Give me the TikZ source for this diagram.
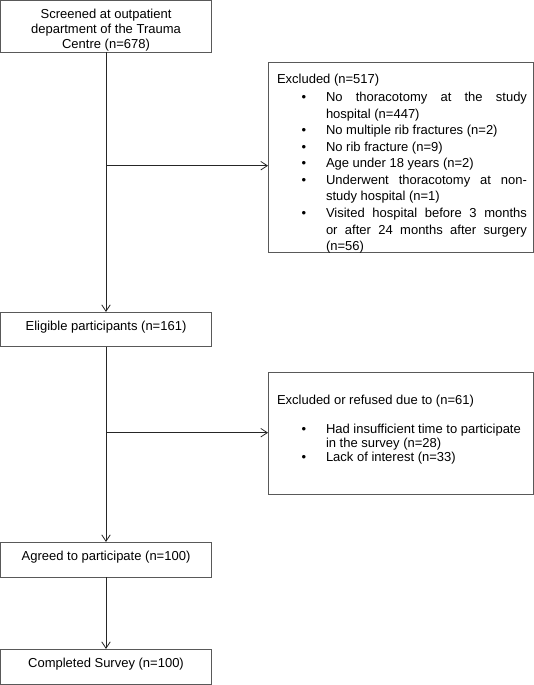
\documentclass[tikz,border=0pt]{standalone}
\usepackage{fontspec}
\setmainfont{Liberation Sans}
\usetikzlibrary{arrows.meta}
\newcommand{\bul}{\hspace*{24.7pt}\makebox[24.3pt][l]{•}}
\newcommand{\cont}{\hspace*{49pt}}
\newcommand{\jst}[1]{\hbox to 201pt{\spaceskip=0.278em plus 1fil\relax #1}}
\newcommand{\cbx}[3]{\parbox[c][#2][t]{#1}{\centering\baselineskip=15pt\rule{0pt}{18.2pt}#3\par}}
\newcommand{\ebx}[5]{\parbox[c][#2][t]{#1}{\parindent=0pt\leftskip=9pt\baselineskip=#3\rule{0pt}{#4}#5\par}}
\begin{document}
\begin{tikzpicture}[x=1pt,y=1pt,
  boxnode/.style={draw=black!65, line width=0.9pt, inner sep=0pt, outer sep=0pt, anchor=north west,
    font=\fontsize{13}{15}\selectfont},
  arr/.style={draw=black!85, line width=0.8pt, -{Straight Barb[length=6.5pt,width=8.5pt,line width=0.8pt]}}]
\useasboundingbox (0,0) rectangle (534,-685);

\node[boxnode] (screened) at (0.5,-0.5) {\cbx{211pt}{51.5pt}{Screened at outpatient\\department of the Trauma\\Centre (n=678)}};
\node[boxnode] (eligible) at (0.5,-312) {\cbx{211pt}{34.7pt}{Eligible participants (n=161)}};
\node[boxnode] (agreed) at (0.5,-542) {\cbx{211pt}{35pt}{Agreed to participate (n=100)}};
\node[boxnode] (completed) at (0.5,-649) {\cbx{211pt}{35.5pt}{Completed Survey (n=100)}};

\node[boxnode] (excl1) at (268,-62.5) {\ebx{265.5pt}{189.8pt}{16.56pt}{20.7pt}{%
Excluded (n=517)\par\vskip1.84pt
\noindent\bul\jst{No thoracotomy at the study}\par
\noindent\cont hospital (n=447)\par
\noindent\bul No multiple rib fractures (n=2)\par
\noindent\bul No rib fracture (n=9)\par
\noindent\bul Age under 18 years (n=2)\par
\noindent\bul\jst{Underwent thoracotomy at non-}\par
\noindent\cont study hospital (n=1)\par
\noindent\bul\jst{Visited hospital before 3 months}\par
\noindent\cont\jst{or after 24 months after surgery}\par
\noindent\cont (n=56)}};

\node[boxnode] (excl2) at (268,-372) {\ebx{265.5pt}{122pt}{14pt}{32pt}{%
Excluded or refused due to (n=61)\par\vskip15pt
\noindent\bul Had insufficient time to participate\par
\noindent\cont in the survey (n=28)\par
\noindent\bul Lack of interest (n=33)}};

\coordinate (j1) at (106,-165.7);
\coordinate (j2) at (106,-432.7);
\draw[arr] (screened.south) -- (eligible.north);
\draw[arr] (j1) -- (j1 -| excl1.west);
\draw[arr] (eligible.south) -- (agreed.north);
\draw[arr] (j2) -- (j2 -| excl2.west);
\draw[arr] (agreed.south) -- (completed.north);
\end{tikzpicture}
\end{document}
